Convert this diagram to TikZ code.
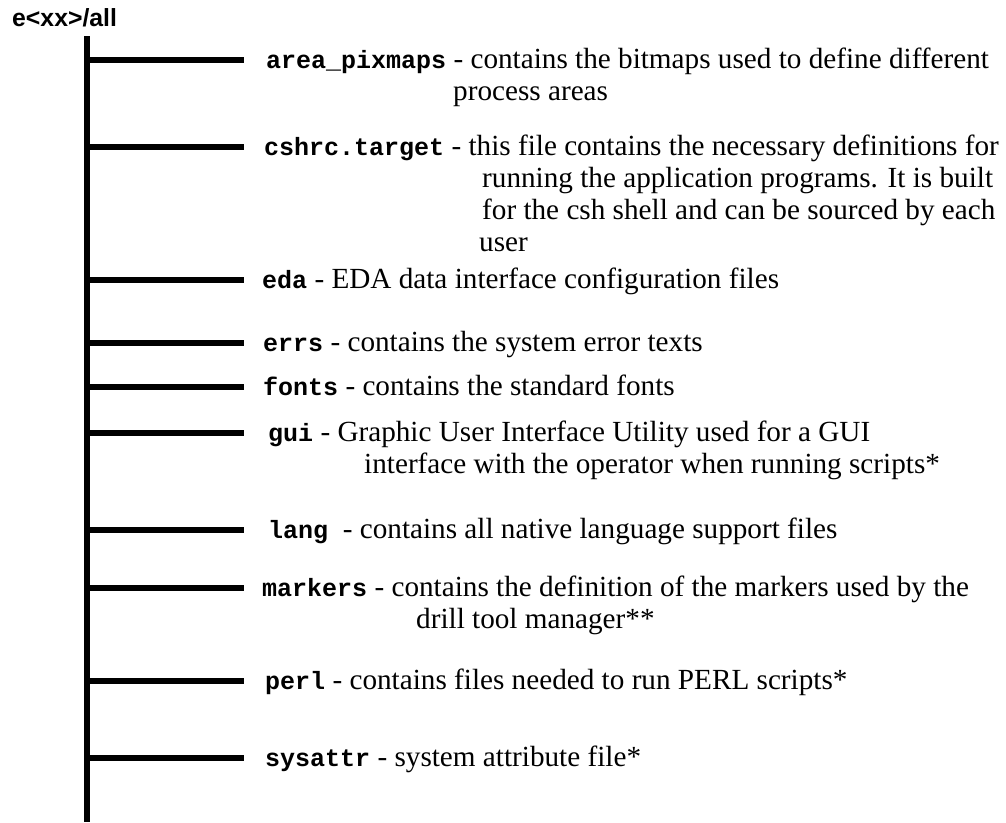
\documentclass[tikz,border=0pt]{standalone}
\usepackage{fontspec}
\setmainfont{Liberation Serif}
\setsansfont{Liberation Sans}
\setmonofont{Liberation Mono}
\usetikzlibrary{positioning}
\newcommand{\dirname}[1]{{\ttfamily\bfseries\fontsize{25}{32}\selectfont #1}}
% first line carries the node's baseline
\newcommand{\dirlines}[1]{\begin{tabular}[t]{@{}l@{}}#1\end{tabular}}

\begin{document}
\begin{tikzpicture}[
    x=1pt, y=-1pt,
    trunk/.style={line width=6pt},
    twig/.style={line width=6pt},
    entry/.style={anchor=base west, inner sep=0pt,
        font=\fontsize{29.2}{32}\selectfont},
]
\useasboundingbox (0,0) rectangle (1006,822);

% --- Title ---
\node[font=\sffamily\bfseries\fontsize{24.8}{28}\selectfont,
      anchor=base west, inner sep=0pt] (title) at (12,26) {e<xx>/all};

% --- Trunk, runs off the bottom ---
\coordinate (top) at (87,36);
\coordinate (bottom) at (87,822);
\draw[trunk] (top) -- (bottom);

% --- Branches ---
\foreach \dir/\y in {area/60, cshrc/147, eda/280, errs/343, fonts/387,
                     gui/433, lang/530, markers/588, perl/681, sysattr/758}
{
    \coordinate (\dir-a) at (87,\y);
    \coordinate (\dir-b) at (244,\y);
    \draw[twig] (\dir-a) -- (\dir-b);
}

% --- Entries ---
\node[entry] (area) at ([xshift=22pt, yshift=-8pt]area-b)
    {\dirlines{\dirname{area\_pixmaps} - contains the bitmaps used to define different\\
     \hspace*{187pt}process areas}};
\node[entry] (cshrc) at ([xshift=20pt, yshift=-8pt]cshrc-b)
    {\dirlines{\dirname{cshrc.target} - this file contains the necessary definitions for\\
     \hspace*{218pt}running the application programs. It is built\\
     \hspace*{218pt}for the csh shell and can be sourced by each\\
     \hspace*{215pt}user}};
\node[entry] (eda) at ([xshift=18pt, yshift=-8pt]eda-b)
    {\dirname{eda} - EDA data interface configuration files};
\node[entry] (errs) at ([xshift=19pt, yshift=-8pt]errs-b)
    {\dirname{errs} - contains the system error texts};
\node[entry] (fonts) at ([xshift=19pt, yshift=-8pt]fonts-b)
    {\dirname{fonts} - contains the standard fonts};
\node[entry] (gui) at ([xshift=24pt, yshift=-8pt]gui-b)
    {\dirlines{\dirname{gui} - Graphic User Interface Utility used for a GUI\\
     \hspace*{96pt}interface with the operator when running scripts*}};
\node[entry] (lang) at ([xshift=24pt, yshift=-8pt]lang-b)
    {\dirname{lang}\ \ - contains all native language support files};
\node[entry] (markers) at ([xshift=18pt, yshift=-8pt]markers-b)
    {\dirlines{\dirname{markers} - contains the definition of the markers used by the\\
     \hspace*{154pt}drill tool manager**}};
\node[entry] (perl) at ([xshift=21pt, yshift=-8pt]perl-b)
    {\dirname{perl} - contains files needed to run PERL scripts*};
\node[entry] (sysattr) at ([xshift=21pt, yshift=-8pt]sysattr-b)
    {\dirname{sysattr} - system attribute file*};

\end{tikzpicture}
\end{document}
